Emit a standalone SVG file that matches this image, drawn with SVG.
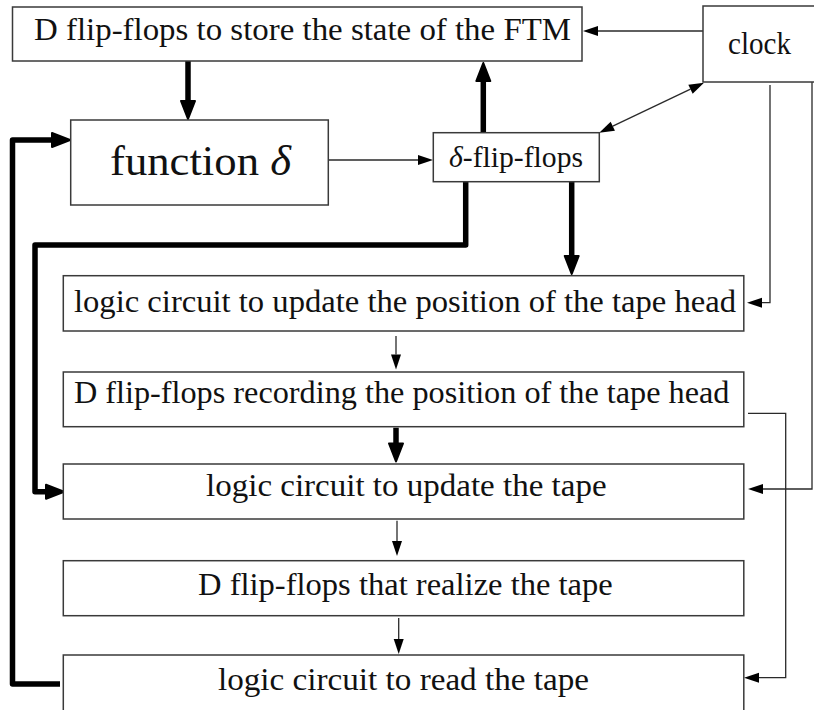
<svg xmlns="http://www.w3.org/2000/svg" width="814" height="710" viewBox="0 0 814 710">
  <style>
    .box { fill: #ffffff; stroke: #3a3a3a; stroke-width: 1.5; }
    text { font-family: Liberation Serif, Tinos, Nimbus Roman, Nimbus Roman No9 L, FreeSerif, Times, DejaVu Serif, Noto Serif, serif; font-size: 32.5px; fill: #111111; text-anchor: middle; }
    .thin { fill: none; stroke: #2a2a2a; stroke-width: 1.3; marker-end: url(#headThin); }
    .thick { fill: none; stroke: #000000; stroke-width: 5.5; stroke-linejoin: round; marker-end: url(#headThick); }
  </style>
  <defs>
    <!-- heads sit in front of the path end: path stops at the base of the head -->
    <marker id="headThin" markerUnits="userSpaceOnUse" viewBox="0 -6 16 12" refX="0" refY="0" markerWidth="16" markerHeight="12" orient="auto-start-reverse" overflow="visible">
      <path d="M0,-5 L15,0 L0,5 z" fill="#000000"/>
    </marker>
    <marker id="headThick" markerUnits="userSpaceOnUse" viewBox="-2 -10 24 20" refX="0" refY="0" markerWidth="24" markerHeight="20" orient="auto" overflow="visible">
      <path d="M0,-7 L18,0 L0,7 z" fill="#000000" stroke="#000000" stroke-width="2" stroke-linejoin="round"/>
    </marker>
  </defs>

  <rect width="814" height="710" fill="#ffffff"/>

  <g id="connectors">
    <!-- clock feeds -->
    <path class="thin" d="M703,31 H598"/>
    <path class="thin" d="M612.8,126.2 L690.5,89.2" style="marker-start: url(#headThin)"/>
    <path class="thin" d="M770,85 V302.7 H762"/>
    <path class="thin" d="M812,82 V489 H763"/>
    <path class="thin" d="M748,413.3 H785.7 V677.7 H759"/>
    <!-- state loop -->
    <path class="thick" d="M188,61 V101"/>
    <path class="thick" d="M483.3,133 V81"/>
    <path class="thin" d="M328.3,160 H418"/>
    <path class="thick" d="M571.7,182 V256"/>
    <path class="thick" d="M465.7,182 V245 H35 V491.7 H46"/>
    <path class="thick" d="M60,684 H12.5 V140 H52"/>
    <!-- tape pipeline -->
    <path class="thin" d="M396,336 V354.5"/>
    <path class="thick" d="M396,427.7 V443.5"/>
    <path class="thin" d="M397,520.7 V541"/>
    <path class="thin" d="M398.7,618 V639"/>
  </g>

  <g id="state-ff">
    <rect class="box" x="12.5" y="7" width="569.5" height="54"/>
    <text x="302.5" y="40" textLength="537" lengthAdjust="spacingAndGlyphs">D flip-flops to store the state of the FTM</text>
  </g>

  <g id="clock">
    <rect class="box" x="703" y="6" width="120" height="76"/>
    <text x="759.5" y="54" textLength="63" lengthAdjust="spacingAndGlyphs">clock</text>
  </g>

  <g id="function-delta">
    <rect class="box" x="70.7" y="120" width="257.6" height="85"/>
    <text x="200.5" y="175" style="font-size:43px" textLength="181" lengthAdjust="spacingAndGlyphs">function <tspan font-style="italic">δ</tspan></text>
  </g>

  <g id="delta-ff">
    <rect class="box" x="433.3" y="132.7" width="166" height="49"/>
    <text x="516" y="167" style="font-size:29px" textLength="134" lengthAdjust="spacingAndGlyphs"><tspan font-style="italic">δ</tspan>-flip-flops</text>
  </g>

  <g id="head-update">
    <rect class="box" x="63.3" y="275.7" width="680.5" height="55.3"/>
    <text x="405" y="311.7" textLength="662" lengthAdjust="spacingAndGlyphs">logic circuit to update the position of the tape head</text>
  </g>

  <g id="head-ff">
    <rect class="box" x="63.3" y="372" width="680.5" height="54.7"/>
    <text x="401.7" y="403.3" textLength="655.5" lengthAdjust="spacingAndGlyphs">D flip-flops recording the position of the tape head</text>
  </g>

  <g id="tape-update">
    <rect class="box" x="63.3" y="464" width="680.5" height="55"/>
    <text x="406.3" y="496" textLength="400.5" lengthAdjust="spacingAndGlyphs">logic circuit to update the tape</text>
  </g>

  <g id="tape-ff">
    <rect class="box" x="63.3" y="560.7" width="680.5" height="55"/>
    <text x="405.4" y="595" textLength="414.7" lengthAdjust="spacingAndGlyphs">D flip-flops that realize the tape</text>
  </g>

  <g id="tape-read">
    <rect class="box" x="63.3" y="655" width="680.5" height="62"/>
    <text x="403.5" y="690" textLength="371" lengthAdjust="spacingAndGlyphs">logic circuit to read the tape</text>
  </g>
</svg>
